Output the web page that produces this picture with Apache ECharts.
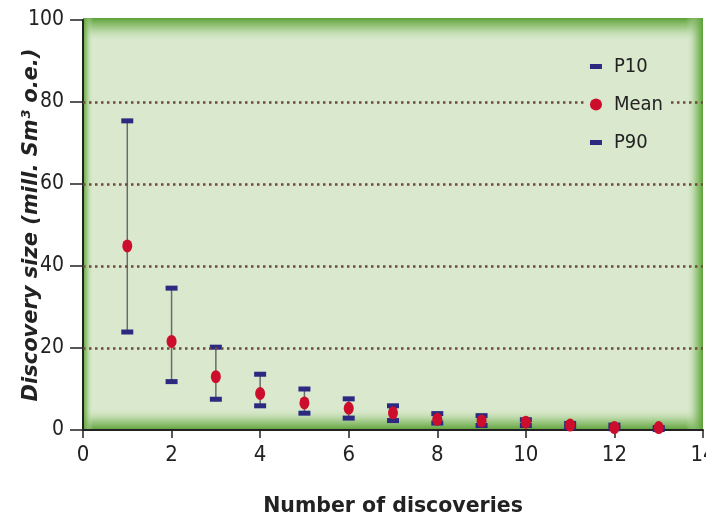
<!DOCTYPE html>
<html>
<head>
<meta charset="utf-8">
<script src="https://cdn.jsdelivr.net/npm/echarts@6/dist/echarts.min.js"></script>
<style>html,body{margin:0;padding:0;background:#fff;}#c{width:706px;height:516px;}</style>
</head>
<body>
<div id="c"></div>
<script>
var discoveries = [1, 2, 3, 4, 5, 6, 7, 8, 9, 10, 11, 12, 13];
var p10 = [75.4, 34.6, 20.2, 13.6, 10.0, 7.6, 5.9, 4.0, 3.5, 2.5, 1.6, 1.2, 0.6];
var meanVals = [44.9, 21.6, 13.0, 8.9, 6.6, 5.3, 4.2, 2.6, 2.2, 1.9, 1.2, 0.6, 0.6];
var p90 = [23.9, 11.8, 7.5, 5.9, 4.1, 2.9, 2.3, 1.7, 1.1, 1.1, 0.6, 0.3, 0.1];
var gridLines = [20, 40, 60, 80];
var xTicks = [0, 2, 4, 6, 8, 10, 12, 14];

var chart = echarts.init(document.getElementById('c'), null, {renderer: 'canvas'});
var cond = "'DejaVu Sans', sans-serif";
var navy = '#2c2a80';
var red = '#cc0d2c';
var rectPath = 'path://M0,0H12V5H0Z';

var edgeDark = '#5aa036';
var inner = '#dae9ce';
function grad(x0, y0, x1, y1) {
  return {type: 'linear', x: x0, y: y0, x2: x1, y2: y1,
    colorStops: [{offset: 0, color: edgeDark}, {offset: 0.4, color: 'rgba(135,188,105,0.7)'}, {offset: 1, color: 'rgba(218,233,206,0)'}]};
}

var option = {
  animation: false,
  backgroundColor: '#ffffff',
  grid: {left: 83, top: 20, right: 3, bottom: 86, show: false, outerBoundsMode: 'none', containLabel: false},
  graphic: [
    {type: 'rect', z: 0, shape: {x: 83, y: 18, width: 620, height: 412}, style: {fill: inner}},
    {type: 'rect', z: 0, shape: {x: 83, y: 18, width: 620, height: 24}, style: {fill: grad(0, 0, 0, 1)}},
    {type: 'rect', z: 0, shape: {x: 83, y: 408, width: 620, height: 22}, style: {fill: grad(0, 1, 0, 0)}},
    {type: 'rect', z: 0, shape: {x: 83, y: 18, width: 10, height: 412}, style: {fill: grad(0, 0, 1, 0)}},
    {type: 'rect', z: 0, shape: {x: 686, y: 18, width: 17, height: 412}, style: {fill: grad(1, 0, 0, 0)}}
  ],
  legend: {
    orient: 'vertical',
    right: 38,
    top: 51,
    z: 6,
    padding: [4, 5, 4, 6],
    backgroundColor: inner,
    itemWidth: 12,
    itemHeight: 12,
    itemGap: 15,
    textStyle: {fontFamily: cond, fontStyle: 'condensed', fontSize: 20, color: '#222', lineHeight: 23, padding: [0, 0, 0, 7]},
    data: [
      {name: 'P10', icon: rectPath},
      {name: 'Mean', icon: 'circle'},
      {name: 'P90', icon: rectPath}
    ]
  },
  xAxis: {
    type: 'value', min: 0, max: 14, interval: 2, z: 1,
    name: 'Number of discoveries', nameLocation: 'middle', nameGap: 66, nameMoveOverlap: false,
    nameTextStyle: {fontFamily: "'DejaVu Sans', sans-serif", fontWeight: 'bold', fontSize: 20.5, color: '#222'},
    axisLine: {show: true, onZero: false, lineStyle: {color: '#222', width: 2}},
    axisTick: {show: true, length: 8, lineStyle: {color: '#222', width: 1.5}},
    axisLabel: {fontFamily: cond, fontStyle: 'condensed', fontSize: 22, color: '#222', margin: 14,
      formatter: function (v) { return xTicks.indexOf(v) >= 0 ? String(v) : ''; }},
    splitLine: {show: false}
  },
  yAxis: {
    type: 'value', min: 0, max: 100, interval: 20, z: 1,
    name: 'Discovery size (mill. Sm³ o.e.)', nameLocation: 'middle', nameGap: 41, nameRotate: 90, nameMoveOverlap: false,
    nameTextStyle: {fontFamily: "'DejaVu Sans', sans-serif", fontWeight: 'bold', fontStyle: 'italic', fontSize: 21, color: '#222'},
    axisLine: {show: true, lineStyle: {color: '#222', width: 2}},
    axisTick: {show: true, length: 13, lineStyle: {color: '#222', width: 1.5}},
    axisLabel: {fontFamily: cond, fontStyle: 'condensed', fontSize: 21, color: '#222', margin: 19},
    splitLine: {show: false}
  },
  series: [
    {
      type: 'custom', name: 'range', z: 2,
      data: discoveries.map(function (d, i) { return [d, p90[i], p10[i]]; }),
      encode: {x: 0, y: [1, 2]},
      renderItem: function (params, api) {
        var a = api.coord([api.value(0), api.value(1)]);
        var b = api.coord([api.value(0), api.value(2)]);
        return {type: 'line', shape: {x1: a[0], y1: a[1], x2: b[0], y2: b[1]},
          style: {stroke: '#6a6a6a', lineWidth: 1.5}};
      },
      markLine: {
        silent: true, symbol: 'none', label: {show: false},
        lineStyle: {color: '#6e4a3a', type: [2.5, 3.5], width: 2.6},
        data: gridLines.map(function (v) { return {yAxis: v}; })
      }
    },
    {
      type: 'scatter', name: 'P90', z: 3, symbol: rectPath, symbolSize: [12, 5],
      symbolKeepAspect: false,
      itemStyle: {color: navy, opacity: 1},
      data: discoveries.map(function (d, i) { return [d, p90[i]]; })
    },
    {
      type: 'scatter', name: 'P10', z: 3, symbol: rectPath, symbolSize: [12, 5],
      symbolKeepAspect: false,
      itemStyle: {color: navy, opacity: 1},
      data: discoveries.map(function (d, i) { return [d, p10[i]]; })
    },
    {
      type: 'scatter', name: 'Mean', z: 4, symbol: 'circle', symbolSize: [10, 13],
      itemStyle: {color: red, opacity: 1},
      data: discoveries.map(function (d, i) { return [d, meanVals[i]]; })
    }
  ]
};
chart.setOption(option);
</script>
</body>
</html>
